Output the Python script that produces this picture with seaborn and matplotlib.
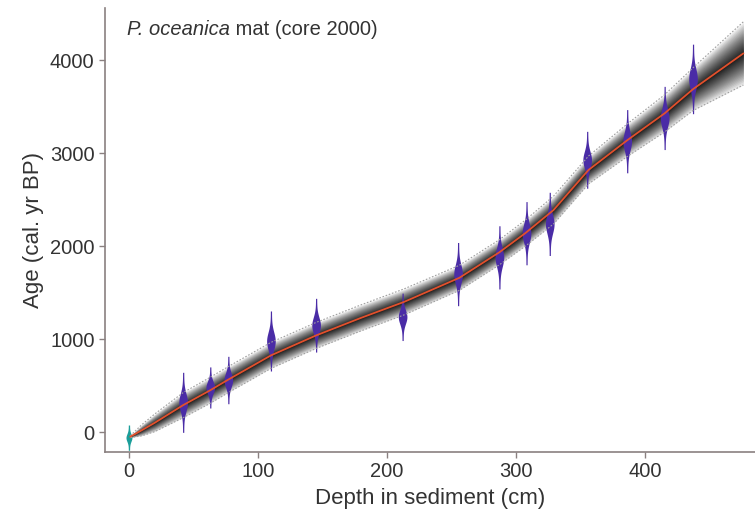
import numpy as np
import pandas as pd
import matplotlib
matplotlib.use("Agg")
import matplotlib.pyplot as plt
import seaborn as sns

# ---- data ----
date_depth = [0, 42, 63, 77, 110, 145, 212, 255, 287, 308, 326, 355, 386, 415, 437]
date_age   = [-60, 320, 480, 560, 980, 1150, 1240, 1700, 1880, 2140, 2240, 2930, 3130, 3380, 3800]
date_sd    = [40, 95, 65, 75, 95, 85, 75, 100, 100, 100, 100, 90, 100, 100, 110]
date_kind  = ["surface"] + ["14C"] * 14

model_depth = [1, 10, 20, 42, 63, 77, 110, 145, 180, 213, 256, 287, 307, 329, 356, 386, 415, 437, 476]
model_age   = [-50, 20, 100, 290, 450, 565, 825, 1040, 1230, 1400, 1660, 1935, 2140, 2390, 2820, 3140, 3430, 3690, 4075]
model_halfwidth = [10, 60, 95, 135, 140, 140, 140, 140, 140, 140, 135, 135, 140, 150, 150, 175, 200, 230, 340]

xticks = [0, 100, 200, 300, 400]
yticks = [0, 1000, 2000, 3000, 4000]

sns.set_style("ticks")
plt.rcParams["font.family"] = ["Liberation Sans", "DejaVu Sans"]

fig = plt.figure(figsize=(7.55, 5.19), dpi=100)
ax = fig.add_axes([0.139, 0.129, 0.861, 0.855])

md = np.array(model_depth, float)
ma = np.array(model_age, float)
mh = np.array(model_halfwidth, float)

# grey age-model envelope (shaded from dark centre to light edges)
fracs = np.linspace(1.0, 0.03, 30) ** 1.7
for f in fracs:
    ax.fill_between(md, ma - f * mh, ma + f * mh, color="black", alpha=0.068, lw=0)
ax.plot(md, ma - mh, color="#a0a0a0", lw=0.8, ls=(0, (1.5, 1.5)))
ax.plot(md, ma + mh, color="#a0a0a0", lw=0.8, ls=(0, (1.5, 1.5)))

# calibrated date distributions drawn as vertical violins
colors = {"surface": "#1b9e9a", "14C": "#4a2ca6"}
for d, a, s, k in zip(date_depth, date_age, date_sd, date_kind):
    yy = np.linspace(a - 3.4 * s, a + 3.4 * s, 300)
    z = (yy - a) / s
    if k == "surface":
        w = 1.8 * np.exp(-0.5 * z ** 2) + 0.5
    else:
        w = 2.9 * np.exp(-0.5 * z ** 2) + 0.45
    ax.fill_betweenx(yy, d - w, d + w, color=colors[k], lw=0)

# median age model
df = pd.DataFrame({"depth": md, "age": ma})
sns.lineplot(data=df, x="depth", y="age", ax=ax, color="#e2502c", lw=1.3, sort=False)

ax.set_xlim(-18.6, 485)
ax.set_ylim(-215, 4560)
ax.set_xticks(xticks)
ax.set_yticks(yticks)
ax.set_xlabel("Depth in sediment (cm)", fontsize=16, color="#333333", labelpad=5)
ax.set_ylabel("Age (cal. yr BP)", fontsize=16, color="#333333", labelpad=4)
ax.tick_params(axis="both", labelsize=14.5, colors="#8a8080", labelcolor="#333333",
               length=4, width=1, direction="out")
sns.despine(ax=ax)
for sp in ["left", "bottom"]:
    ax.spines[sp].set_color("#8a8080")
    ax.spines[sp].set_linewidth(1.2)

t1 = ax.text(0.034, 0.953, "P. oceanica", transform=ax.transAxes, fontsize=14.5,
             style="italic", color="#333333", ha="left", va="center")
ax.annotate(" mat (core 2000)", xy=(1, 0.5), xycoords=t1, fontsize=14.5,
            color="#333333", ha="left", va="center")

fig.savefig("out.png", dpi=100)
